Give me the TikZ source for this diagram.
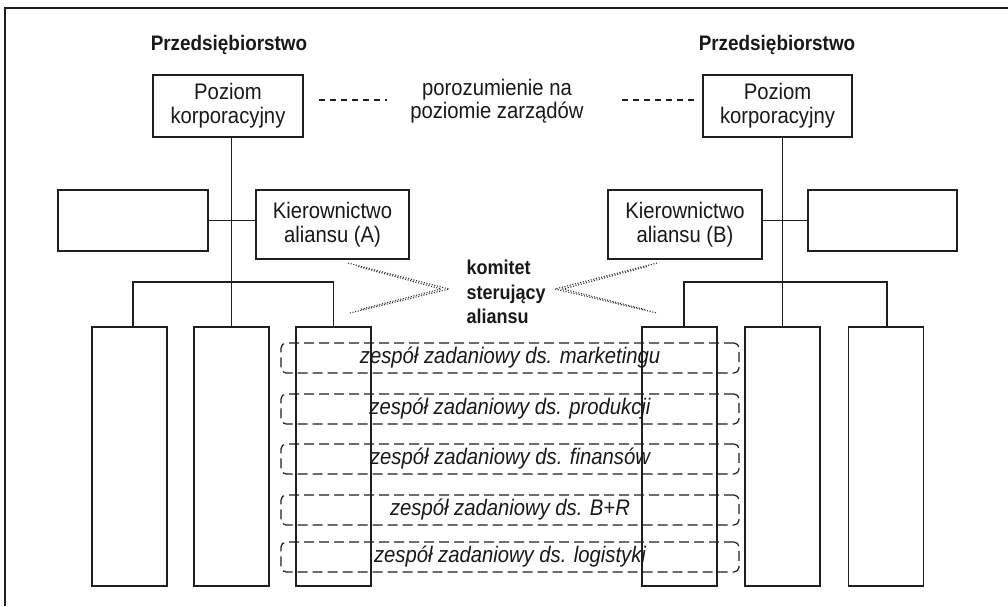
\documentclass[tikz,border=0pt]{standalone}
\usepackage{fontspec}
\setmainfont{Liberation Sans}[FakeStretch=0.9]
\begin{document}
\begin{tikzpicture}[x=1pt,y=-1pt,
  ink/.style={draw=black!88, line width=1.3pt},
  orgbox/.style={ink, rectangle, inner sep=0pt, outer sep=0pt, align=center,
    font=\fontsize{22.5}{24}\selectfont, text=black!90},
  teamframe/.style={draw=black!88, line width=1.2pt, rectangle, rounded corners=5pt,
    dash pattern=on 10pt off 5pt, inner sep=0pt, outer sep=0pt,
    minimum width=458, minimum height=30,
    font=\fontsize{22.5}{24}\selectfont\itshape, text=black!90},
  title/.style={font=\fontsize{21}{24}\selectfont\bfseries, text=black!90},
  arm/.style={draw=black!80, line width=1.1pt, dash pattern=on 1.1pt off 1.6pt},
  link/.style={ink}
]
\useasboundingbox (0,0) rectangle (1008,606);
\fill[white] (0,0) rectangle (1008,606);

% frame
\draw[ink] (5,606) -- (5,8) -- (1008,8);

% company titles
\node[title] (titleL) at (229,45) {Przedsiębiorstwo};
\node[title] (titleR) at (777,45) {Przedsiębiorstwo};

% corporate level
\node[orgbox, minimum width=150, minimum height=62] (corpL) at (228,106) {Poziom\\korporacyjny};
\node[orgbox, minimum width=149, minimum height=62] (corpR) at (777.5,106) {Poziom\\korporacyjny};

% board agreement
\node[align=center, font=\fontsize{22.5}{22.5}\selectfont, text=black!90] (agree) at (497,101)
  {porozumienie na\\poziomie zarządów};
\draw[ink, line width=1.1pt, dash pattern=on 6pt off 5pt] (corpL.east) ++(16,-6) coordinate (dl1) -- ++(68,0) coordinate (dl2);
\draw[ink, line width=1.1pt, dash pattern=on 6pt off 5pt] (corpR.west) ++(-81,-6) coordinate (dr1) -- ++(75,0) coordinate (dr2);

% second level
\node[orgbox, minimum width=150, minimum height=61] (blankL) at (133,220.5) {};
\node[orgbox, minimum width=153, minimum height=69] (mgmtA) at (332.5,224.5) {Kierownictwo\\aliansu (A)};
\node[orgbox, minimum width=154, minimum height=69] (mgmtB) at (685,224.5) {Kierownictwo\\aliansu (B)};
\node[orgbox, minimum width=149, minimum height=61] (blankR) at (882.5,220.5) {};

% units
\foreach \n/\cx in {uL1/129.5, uL2/231.5, uL3/333.5, uR1/679.5, uR2/782.5, uR3/886}
  \node[orgbox, minimum width=75, minimum height=259] (\n) at (\cx,456.5) {};

% left tree
\draw[link] (uL2.north) -- (uL2.north |- corpL.south);
\draw[link] (blankL.east) -- (mgmtA.west |- blankL.east);
\draw[link] ([xshift=3.5pt]uL1.north) -- ++(0,-45) -| (uL3.north);

% right tree
\draw[link] (uR2.north) -- (uR2.north |- corpR.south);
\draw[link] (blankR.west) -- (mgmtB.east |- blankR.west);
\draw[link] ([xshift=4.5pt]uR1.north) -- ++(0,-45) -| ([xshift=1pt]uR3.north);

% steering committee
\node[title, font=\fontsize{20}{24.5}\selectfont\bfseries, align=left, anchor=west] (committee) at (463,292)
  {komitet\\sterujący\\aliansu};
\coordinate (vL) at (449,289);
\coordinate (vR) at (555,289);
\draw[arm] (348,263) -- (vL) -- (350,313);
\draw[arm] (358,266.5) -- (441,289) -- (360,309.5);
\draw[arm] (657,263) -- (vR) -- (657,313);
\draw[arm] (647,266.5) -- (563,289) -- (645,309.5);

% task forces
\node[teamframe] (tf1) at (510,358) {zespół zadaniowy ds. marketingu};
\node[teamframe] (tf2) at (510,409) {zespół zadaniowy ds. produkcji};
\node[teamframe] (tf3) at (510,459) {zespół zadaniowy ds. finansów};
\node[teamframe] (tf4) at (510,510) {zespół zadaniowy ds. B+R};
\node[teamframe] (tf5) at (510,557) {zespół zadaniowy ds. logistyki};
\end{tikzpicture}
\end{document}
